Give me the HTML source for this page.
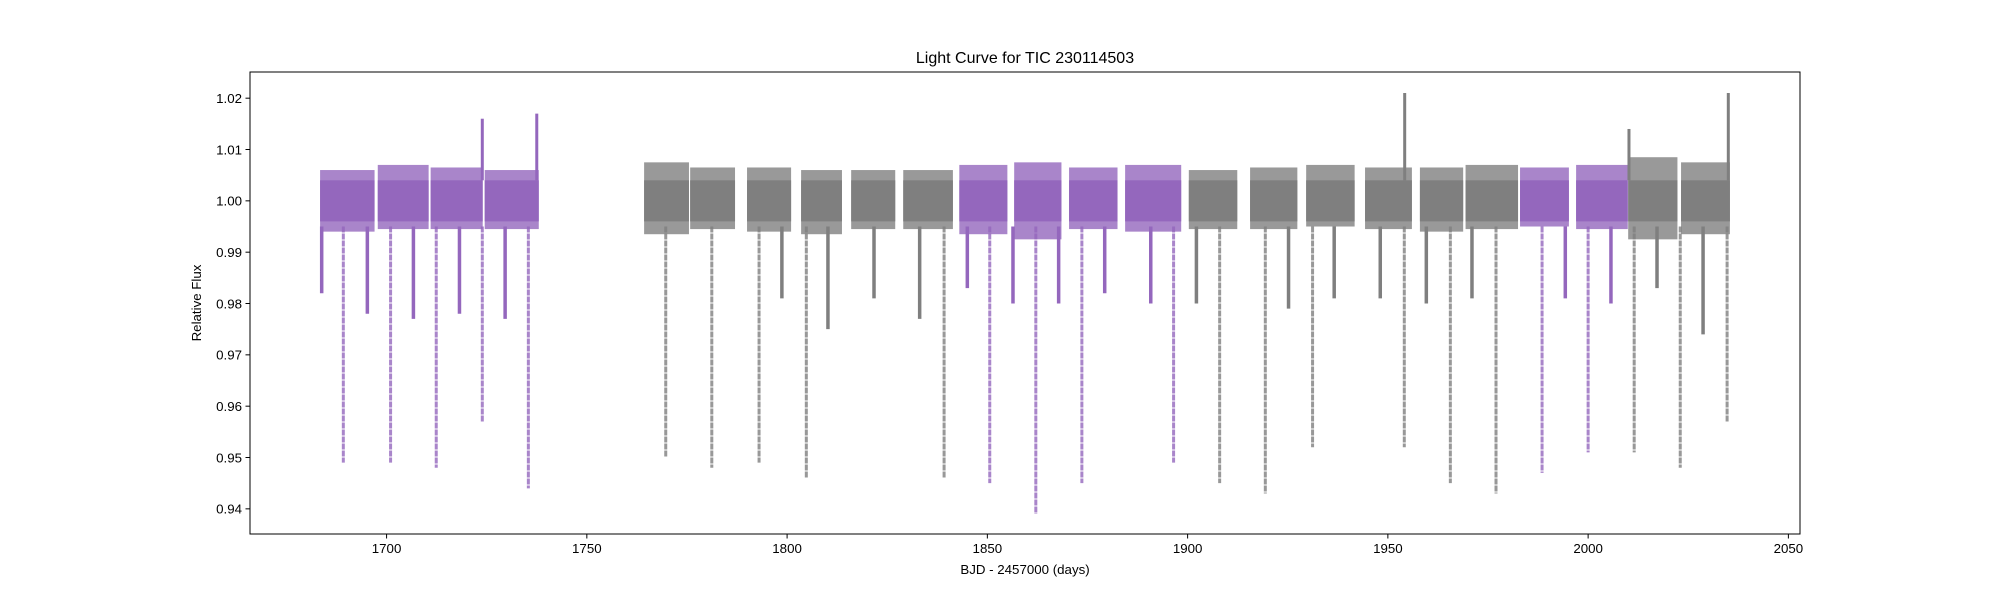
<!DOCTYPE html>
<html><head><meta charset="utf-8"><style>
html,body{margin:0;padding:0;background:#fff;}
svg{display:block;font-family:"Liberation Sans","DejaVu Sans",sans-serif;}
</style></head><body>
<svg id="chart" width="2000" height="600" viewBox="0 0 2000 600">
<rect x="0" y="0" width="2000" height="600" fill="#fff"/>
<g id="marks"></g>
<rect x="250" y="72" width="1550" height="462" fill="none" stroke="#000" stroke-width="1"/>
<g id="axes"></g>
<text x="1025" y="63" text-anchor="middle" font-size="16">Light Curve for TIC 230114503</text>
<text x="1025" y="574" text-anchor="middle" font-size="13.3">BJD - 2457000 (days)</text>
<text x="0" y="0" transform="translate(201,303) rotate(-90)" text-anchor="middle" font-size="13.3">Relative Flux</text>
</svg>
<script>
const segStart=[1683.4,1697.8,1711.0,1724.5,1764.3,1775.8,1790.0,1803.5,1816.0,1829.0,1843.0,1856.7,1870.4,1884.4,1900.3,1915.6,1929.6,1944.3,1958.0,1969.4,1983.0,1997.0,2010.0,2023.2];
const segEnd=[1697.0,1710.5,1724.0,1738.0,1775.5,1787.0,1801.0,1813.7,1827.0,1841.4,1855.0,1868.5,1882.5,1898.4,1912.4,1927.4,1941.7,1956.0,1968.8,1982.5,1995.2,2009.9,2022.3,2035.4];
const segColor=["p","p","p","p","g","g","g","g","g","g","p","p","p","p","g","g","g","g","g","g","p","p","g","g"];
const segLow=[0.9940,0.9945,0.9945,0.9945,0.9935,0.9945,0.9940,0.9935,0.9945,0.9945,0.9935,0.9925,0.9945,0.9940,0.9945,0.9945,0.9950,0.9945,0.9940,0.9945,0.9950,0.9945,0.9925,0.9935];
const segHigh=[1.0060,1.0070,1.0065,1.0060,1.0075,1.0065,1.0065,1.0060,1.0060,1.0060,1.0070,1.0075,1.0065,1.0070,1.0060,1.0065,1.0070,1.0065,1.0065,1.0070,1.0065,1.0070,1.0085,1.0075];
const deepT=[1689.2,1701.0,1712.4,1723.9,1735.4,1769.7,1781.2,1793.0,1804.8,1839.2,1850.6,1862.1,1873.6,1896.5,1908.0,1919.4,1931.2,1954.1,1965.6,1977.0,1988.5,2000.0,2011.5,2023.0,2034.7];
const deepV=[0.949,0.949,0.948,0.957,0.944,0.950,0.948,0.949,0.946,0.946,0.945,0.939,0.945,0.949,0.945,0.943,0.952,0.952,0.945,0.943,0.947,0.951,0.951,0.948,0.957];
const deepC=["p","p","p","p","p","g","g","g","g","g","p","p","p","p","g","g","g","g","g","g","p","p","g","g","g"];
const shallowT=[1683.8,1695.2,1706.7,1718.2,1729.6,1798.7,1810.2,1821.7,1833.1,1845.0,1856.4,1867.8,1879.3,1890.8,1902.2,1925.2,1936.6,1948.1,1959.6,1971.0,1994.3,2005.7,2017.2,2028.7];
const shallowV=[0.982,0.978,0.977,0.978,0.977,0.981,0.975,0.981,0.977,0.983,0.980,0.980,0.982,0.980,0.980,0.979,0.981,0.981,0.980,0.981,0.981,0.980,0.983,0.974];
const shallowC=["p","p","p","p","p","g","g","g","g","p","p","p","p","p","g","g","g","g","g","g","p","p","g","g"];
const spikeT=[1723.9,1737.5,1954.2,2035.0,2010.2];
const spikeV=[1.016,1.017,1.021,1.021,1.014];
const spikeC=["p","p","g","g","g"];
const xTicks=[1700,1750,1800,1850,1900,1950,2000,2050];
const yTicks=[0.94,0.95,0.96,0.97,0.98,0.99,1.00,1.01,1.02];
const yTickLabels=["0.94","0.95","0.96","0.97","0.98","0.99","1.00","1.01","1.02"];

const NS="http://www.w3.org/2000/svg";
const X0=1665.9,X1=2052.9,Y0=0.9351,Y1=1.0251;
function xs(d){return 250+(d-X0)/(X1-X0)*1550;}
function ys(v){return 534-(v-Y0)/(Y1-Y0)*462;}
function col(c){return c==="p"?"#9467bd":"#7f7f7f";}
const marks=document.getElementById('marks');
const axes=document.getElementById('axes');
function mk(tag,attrs,parent){const e=document.createElementNS(NS,tag);for(const k in attrs)e.setAttribute(k,attrs[k]);parent.appendChild(e);return e;}

for(let i=0;i<segStart.length;i++){
  const x=xs(segStart[i]),w=xs(segEnd[i])-x;
  const outer=mk('rect',{x:x,y:ys(segHigh[i]),width:w,height:ys(segLow[i])-ys(segHigh[i]),fill:col(segColor[i]),opacity:0.8},marks);
  
  
  const core=mk('rect',{x:x,y:ys(1.004),width:w,height:ys(0.996)-ys(1.004),fill:col(segColor[i])},marks);
  
  
}
for(let i=0;i<deepT.length;i++){
  const l=mk('line',{x1:xs(deepT[i]),x2:xs(deepT[i]),y1:ys(0.995),y2:ys(deepV[i]),stroke:col(deepC[i]),'stroke-width':3,'stroke-dasharray':'6 1',opacity:0.8},marks);
  
  
}
for(let i=0;i<shallowT.length;i++){
  const l=mk('line',{x1:xs(shallowT[i]),x2:xs(shallowT[i]),y1:ys(0.995),y2:ys(shallowV[i]),stroke:col(shallowC[i]),'stroke-width':3.5},marks);
  
  
}
for(let i=0;i<spikeT.length;i++){
  const l=mk('line',{x1:xs(spikeT[i]),x2:xs(spikeT[i]),y1:ys(1.004),y2:ys(spikeV[i]),stroke:col(spikeC[i]),'stroke-width':3},marks);
  
  
}
for(const t of xTicks){
  const x=xs(t);
  const tk=mk('line',{x1:x,x2:x,y1:534,y2:538.5,stroke:'#000','stroke-width':1},axes);
  
  
  const tx=mk('text',{x:x,y:553,'text-anchor':'middle','font-size':13.3},axes);
  tx.textContent=String(t);
  
  
}
for(let i=0;i<yTicks.length;i++){
  const y=ys(yTicks[i]);
  const tk=mk('line',{x1:245.5,x2:250,y1:y,y2:y,stroke:'#000','stroke-width':1},axes);
  
  
  const tx=mk('text',{x:242,y:y+4.8,'text-anchor':'end','font-size':13.3},axes);
  tx.textContent=yTickLabels[i];
  
  
}
</script>
</body></html>
